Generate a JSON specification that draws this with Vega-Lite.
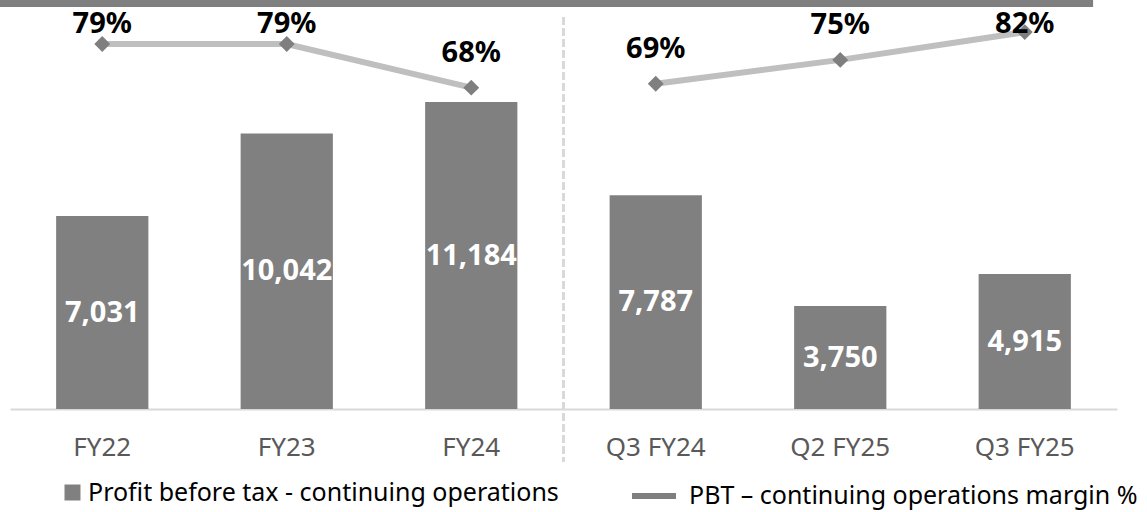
{
  "$schema": "https://vega.github.io/schema/vega-lite/v6.json",
  "width": 1107,
  "height": 405,
  "autosize": {"type": "none"},
  "padding": {"left": 10, "top": 4, "right": 30, "bottom": 103},
  "background": "white",
  "config": {"view": {"stroke": null}, "font": "Noto Sans"},
  "data": {
    "values": [
      {"cat": "FY22", "pbt": 7031, "margin": 0.79, "grp": "FY"},
      {"cat": "FY23", "pbt": 10042, "margin": 0.79, "grp": "FY"},
      {"cat": "FY24", "pbt": 11184, "margin": 0.68, "grp": "FY"},
      {"cat": "Q3 FY24", "pbt": 7787, "margin": 0.69, "grp": "Q"},
      {"cat": "Q2 FY25", "pbt": 3750, "margin": 0.75, "grp": "Q"},
      {"cat": "Q3 FY25", "pbt": 4915, "margin": 0.82, "grp": "Q"}
    ]
  },
  "encoding": {
    "x": {
      "field": "cat",
      "type": "nominal",
      "sort": null,
      "scale": {"domain": ["FY22", "FY23", "FY24", "Q3 FY24", "Q2 FY25", "Q3 FY25"], "paddingInner": 0.5, "paddingOuter": 0.25},
      "axis": {
        "title": null,
        "domainColor": "#d9d9d9",
        "domainWidth": 2,
        "ticks": false,
        "labelAngle": 0,
        "labelFont": "Noto Sans",
        "labelFontSize": 26,
        "labelColor": "#595959",
        "labelBaseline": "alphabetic",
        "labelPadding": 46
      }
    }
  },
  "layer": [
    {
      "layer": [
        {
          "mark": {"type": "rule", "strokeWidth": 7, "color": "#7f7f7f"},
          "encoding": {
            "x": {"datum": "FY22", "bandPosition": -0.608},
            "x2": {"datum": "Q3 FY25", "bandPosition": 1.24},
            "y": {"datum": 14774, "type": "quantitative", "scale": {"domain": [0, 14756]}, "axis": null}
          }
        },
        {
          "mark": {"type": "rule", "strokeDash": [7, 4], "strokeWidth": 3, "color": "#d9d9d9"},
          "encoding": {
            "x": {"datum": "FY24", "bandPosition": 1.5},
            "y": {"datum": 14265, "type": "quantitative", "scale": {"domain": [0, 14756]}, "axis": null},
            "y2": {"datum": -1929}
          }
        },
        {
          "mark": {"type": "bar", "color": "#808080"},
          "encoding": {
            "y": {"field": "pbt", "type": "quantitative", "scale": {"domain": [0, 14756]}, "axis": null},
            "fill": {
              "datum": "Profit before tax - continuing operations",
              "scale": {"range": ["#808080"]},
              "legend": {
                "orient": "none",
                "legendX": 50,
                "legendY": 476,
                "title": null,
                "symbolType": "square",
                "symbolSize": 256,
                "symbolStrokeWidth": 0,
                "labelFont": "Noto Sans",
                "labelFontSize": 25,
                "labelColor": "#000000",
                "labelOffset": 3,
                "labelLimit": 0
              }
            }
          }
        },
        {
          "transform": [{"calculate": "datum.pbt / 2", "as": "mid"}],
          "mark": {"type": "text", "color": "white", "font": "Noto Sans", "fontWeight": "bold", "fontSize": 29, "baseline": "middle"},
          "encoding": {
            "y": {"field": "mid", "type": "quantitative", "scale": {"domain": [0, 14756]}, "axis": null},
            "text": {"field": "pbt", "type": "quantitative", "format": ","}
          }
        }
      ]
    },
    {
      "layer": [
        {
          "mark": {"type": "line", "strokeWidth": 6, "color": "#bfbfbf"},
          "encoding": {
            "y": {"field": "margin", "type": "quantitative", "scale": {"domain": [-0.1294, 0.8908]}, "axis": null},
            "detail": {"field": "grp"}
          }
        },
        {
          "mark": {"type": "point", "shape": "diamond", "filled": true, "fill": "#7f7f7f", "size": 170, "opacity": 1},
          "encoding": {
            "y": {"field": "margin", "type": "quantitative", "scale": {"domain": [-0.1294, 0.8908]}, "axis": null},
            "stroke": {
              "datum": "PBT – continuing operations margin %",
              "scale": {"range": ["#7f7f7f"]},
              "legend": {
                "orient": "none",
                "legendX": 619,
                "legendY": 467,
                "title": null,
                "symbolType": "stroke",
                "symbolSize": 1936,
                "symbolStrokeWidth": 6,
                "symbolFillColor": "transparent",
                "labelFont": "Noto Sans",
                "labelFontSize": 25,
                "labelColor": "#000000",
                "labelOffset": 10,
                "labelLimit": 0
              }
            }
          }
        },
        {
          "transform": [{"calculate": "min(datum.margin + 0.0655, 0.8177)", "as": "lp"}],
          "mark": {"type": "text", "color": "black", "font": "Noto Sans", "fontWeight": "bold", "fontSize": 29, "baseline": "alphabetic"},
          "encoding": {
            "y": {"field": "lp", "type": "quantitative", "scale": {"domain": [-0.1294, 0.8908]}, "axis": null},
            "text": {"field": "margin", "type": "quantitative", "format": ".0%"}
          }
        }
      ]
    }
  ],
  "resolve": {"scale": {"y": "independent"}}
}
